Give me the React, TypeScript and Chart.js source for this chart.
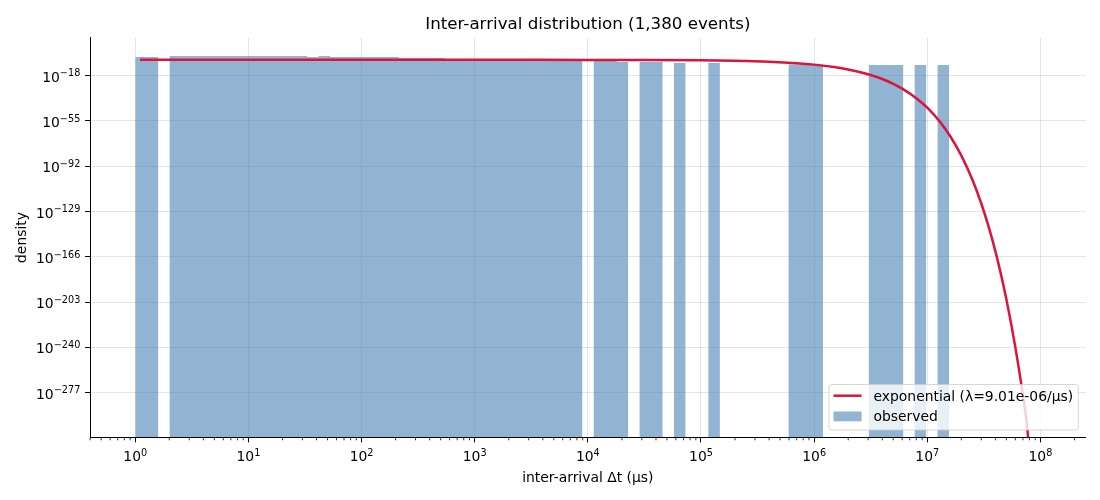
import React, { useEffect, useRef } from 'react'
import { Chart, registerables } from 'chart.js'

Chart.register(...registerables)

// histogram runs (µs) with their density
const binLo = [1.0, 2.013, 33.07, 41.77, 52.75, 213.8, 543.3, 7068, 11272, 17975, 28660, 57700, 116200, 594300, 3043000, 7734000, 12330000]
const binHi = [1.595, 33.07, 41.77, 52.75, 213.8, 543.3, 7068, 8927, 17975, 22700, 45700, 72850, 146700, 1197000, 6124000, 9767000, 15570000]
const density = [1.9e-3, 1.2e-2, 1.9e-3, 1.2e-2, 1.9e-3, 2.9e-4, 1.7e-5, 1.0e-6, 1.5e-6, 1.55e-7, 1.55e-7, 2.4e-8, 2.4e-8, 1.2e-9, 5.5e-10, 5.5e-10, 5.5e-10]

// points picked along the red exponential curve
const fitX = [1.1, 1e3, 1e4, 3e4, 1e5, 2e5, 4e5, 7e5, 1e6, 1.5e6, 2e6, 3e6, 4e6, 5e6, 6e6, 8e6, 1e7, 1.3e7, 1.6e7, 2e7, 2.5e7, 3e7, 3.5e7, 4e7, 4.5e7, 5e7, 5.5e7, 6e7, 6.5e7, 7e7, 7.5e7, 7.8e7]
const fitY = [9.01e-6, 8.93e-6, 8.24e-6, 6.88e-6, 3.66e-6, 1.49e-6, 2.45e-7, 1.64e-8, 1.1e-9, 1.22e-11, 1.35e-13, 1.64e-17, 2.0e-21, 2.45e-25, 3.0e-29, 4.5e-37, 6.7e-45, 1.2e-56, 2.2e-68, 5e-84, 1.35e-103, 3.7e-123, 1e-142, 2.7e-162, 7.4e-182, 2e-201, 5.5e-221, 1.5e-240, 4e-260, 1.1e-279, 3e-299, 6e-315]

const xTickExp = [0, 1, 2, 3, 4, 5, 6, 7, 8]
const yTickExp = [-277, -240, -203, -166, -129, -92, -55, -18]
const minorSteps = [2, 3, 4, 5, 6, 7, 8, 9]

const X_MIN = 0.3981
const X_MAX = 2.512e8
const Y_MIN = 2.5e-314
const Y_MAX = 1.6e13

const FAMILY = '"DejaVu Sans", sans-serif'
const BAR_COLOR = 'rgba(70, 130, 180, 0.6)'
const LINE_COLOR = '#dc143c'

function histPoints() {
  const pts: { x: number; y: number }[] = []
  binLo.forEach((lo, i) => {
    pts.push({ x: lo, y: Y_MIN }, { x: lo, y: density[i] }, { x: binHi[i], y: density[i] }, { x: binHi[i], y: Y_MIN })
  })
  return pts
}

// "10" with a raised exponent, like matplotlib's mathtext labels
function drawPow(ctx: CanvasRenderingContext2D, exp: number, x: number, baseline: number, align: 'center' | 'right') {
  const base = '10'
  const sup = exp < 0 ? '\u2212' + -exp : String(exp)
  ctx.font = `13.9px ${FAMILY}`
  const wb = ctx.measureText(base).width
  ctx.font = `9.7px ${FAMILY}`
  const ws = ctx.measureText(sup).width
  const left = align === 'center' ? x - (wb + ws) / 2 : x - wb - ws
  ctx.textAlign = 'left'
  ctx.textBaseline = 'alphabetic'
  ctx.font = `13.9px ${FAMILY}`
  ctx.fillText(base, left, baseline)
  ctx.font = `9.7px ${FAMILY}`
  ctx.fillText(sup, left + wb, baseline - 5.3)
}

function roundBox(ctx: CanvasRenderingContext2D, x: number, y: number, w: number, h: number, r: number) {
  ctx.beginPath()
  ctx.moveTo(x + r, y)
  ctx.lineTo(x + w - r, y)
  ctx.arcTo(x + w, y, x + w, y + r, r)
  ctx.lineTo(x + w, y + h - r)
  ctx.arcTo(x + w, y + h, x + w - r, y + h, r)
  ctx.lineTo(x + r, y + h)
  ctx.arcTo(x, y + h, x, y + h - r, r)
  ctx.lineTo(x, y + r)
  ctx.arcTo(x, y, x + r, y, r)
  ctx.closePath()
}

const decor = {
  id: 'decor',
  afterDraw(chart: Chart) {
    const { ctx, chartArea: a } = chart
    const xs = chart.scales.x
    const ys = chart.scales.y
    ctx.save()

    // minor ticks on the x axis
    ctx.strokeStyle = '#000'
    ctx.lineWidth = 0.8
    ctx.beginPath()
    for (let e = -1; e <= 8; e++) {
      for (const m of minorSteps) {
        const v = m * 10 ** e
        if (v <= X_MIN || v >= X_MAX) continue
        const px = xs.getPixelForValue(v)
        ctx.moveTo(px, a.bottom)
        ctx.lineTo(px, a.bottom + 2.8)
      }
    }
    ctx.stroke()

    ctx.fillStyle = '#000'
    xTickExp.forEach((e) => drawPow(ctx, e, xs.getPixelForValue(10 ** e), a.bottom + 23.5, 'center'))
    yTickExp.forEach((e) => drawPow(ctx, e, a.left - 9.7, ys.getPixelForValue(10 ** e) + 6, 'right'))

    // title and axis labels
    ctx.textAlign = 'center'
    ctx.textBaseline = 'alphabetic'
    ctx.font = `16.7px ${FAMILY}`
    ctx.fillText('Inter-arrival distribution (1,380 events)', (a.left + a.right) / 2, 29)
    ctx.font = `13.9px ${FAMILY}`
    ctx.fillText('inter-arrival \u0394t (\u00b5s)', (a.left + a.right) / 2, 481.5)
    ctx.save()
    ctx.translate(26, (a.top + a.bottom) / 2)
    ctx.rotate(-Math.PI / 2)
    ctx.fillText('density', 0, 0)
    ctx.restore()

    // legend, lower right inside the axes
    const lx = a.right - 256.7
    const ly = a.bottom - 53
    roundBox(ctx, lx, ly, 249.3, 45.5, 2.8)
    ctx.fillStyle = 'rgba(255, 255, 255, 0.8)'
    ctx.fill()
    ctx.strokeStyle = 'rgba(204, 204, 204, 0.8)'
    ctx.lineWidth = 1
    ctx.stroke()

    ctx.strokeStyle = LINE_COLOR
    ctx.lineWidth = 2.5
    ctx.beginPath()
    ctx.moveTo(lx + 4.5, ly + 11.2)
    ctx.lineTo(lx + 32.5, ly + 11.2)
    ctx.stroke()
    ctx.fillStyle = BAR_COLOR
    ctx.fillRect(lx + 4.5, ly + 27, 28, 9.8)

    ctx.fillStyle = '#000'
    ctx.textAlign = 'left'
    ctx.font = `13.9px ${FAMILY}`
    ctx.fillText('exponential (\u03bb=9.01e-06/\u00b5s)', lx + 44.5, ly + 16.5)
    ctx.fillText('observed', lx + 44.5, ly + 36.8)

    ctx.restore()
  }
}

const App: React.FC = () => {
  const canvasRef = useRef<HTMLCanvasElement | null>(null)
  const chartRef = useRef<Chart | null>(null)

  useEffect(() => {
    if (!canvasRef.current) return
    if (chartRef.current) chartRef.current.destroy()

    const grid = {
      color: 'rgba(0, 0, 0, 0.1)',
      lineWidth: 1,
      tickLength: 4.9,
      tickColor: '#000',
      tickWidth: 1
    }
    const border = { display: true, color: '#000', width: 1, z: 1 }

    chartRef.current = new Chart(canvasRef.current, {
      type: 'line',
      data: {
        datasets: [
          {
            label: 'exponential',
            data: fitX.map((x, i) => ({ x, y: fitY[i] })),
            borderColor: LINE_COLOR,
            borderWidth: 2.5,
            pointRadius: 0,
            fill: false,
            cubicInterpolationMode: 'monotone',
            clip: 0,
            order: 0
          },
          {
            label: 'observed',
            data: histPoints(),
            borderWidth: 0,
            borderColor: 'rgba(0, 0, 0, 0)',
            backgroundColor: BAR_COLOR,
            pointRadius: 0,
            fill: 'start',
            tension: 0,
            order: 1
          }
        ]
      },
      options: {
        animation: false,
        responsive: false,
        layout: { padding: { left: 0, right: 14.3, top: 37.5, bottom: 0 } },
        plugins: {
          legend: { display: false },
          title: { display: false },
          tooltip: { enabled: false }
        },
        scales: {
          x: {
            type: 'logarithmic',
            min: X_MIN,
            max: X_MAX,
            afterBuildTicks: (s: any) => {
              s.ticks = xTickExp.map((e) => ({ value: 10 ** e }))
            },
            afterFit: (s: any) => {
              s.height = 62.5
            },
            ticks: { display: false },
            grid,
            border
          },
          y: {
            type: 'logarithmic',
            min: Y_MIN,
            max: Y_MAX,
            afterBuildTicks: (s: any) => {
              s.ticks = yTickExp.map((e) => ({ value: 10 ** e }))
            },
            afterFit: (s: any) => {
              s.width = 90
            },
            ticks: { display: false },
            grid,
            border
          }
        }
      },
      plugins: [decor]
    } as any)

    return () => {
      if (chartRef.current) {
        chartRef.current.destroy()
        chartRef.current = null
      }
    }
  }, [])

  return (
    <div style={{ position: 'absolute', left: 0, top: 0, width: 1100, height: 500, background: '#fff' }}>
      <canvas ref={canvasRef} width={1100} height={500}></canvas>
    </div>
  )
}

export default App
